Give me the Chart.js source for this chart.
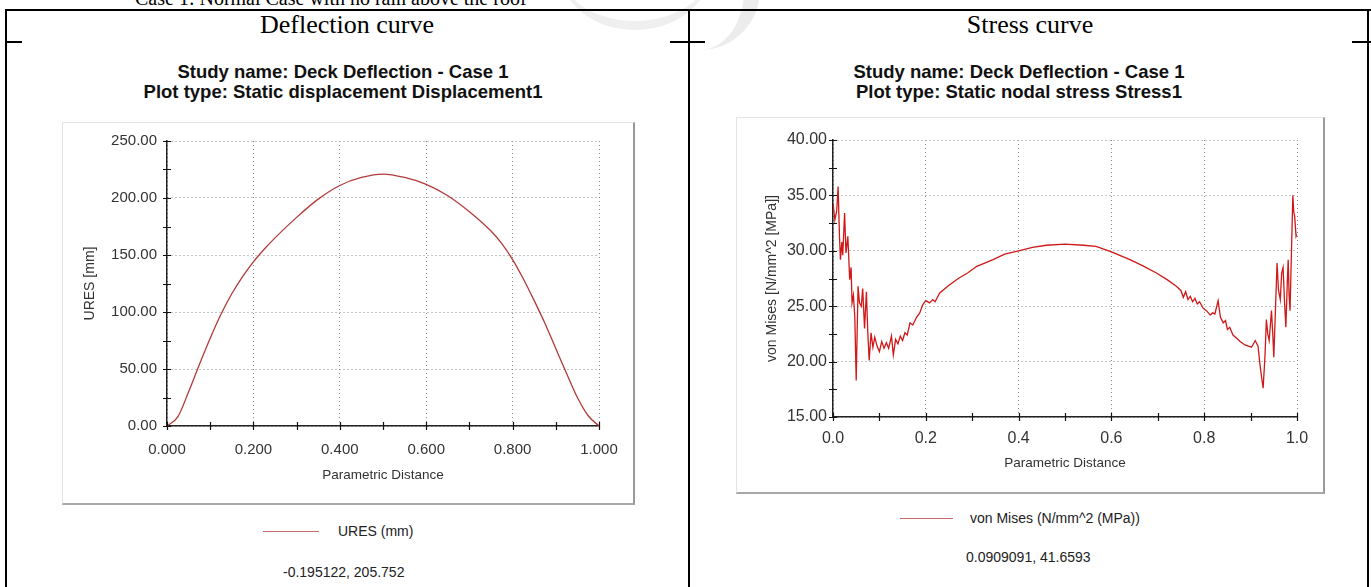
<!DOCTYPE html>
<html>
<head>
<meta charset="utf-8">
<title>Deck Deflection - Case 1</title>
<script src="https://cdn.jsdelivr.net/npm/chart.js@4.4.0/dist/chart.umd.min.js"></script>
<style>
  html, body { margin: 0; padding: 0; background: #fff; }
  body { width: 1371px; height: 587px; position: relative; overflow: hidden; font-family: Arial, "Liberation Sans", sans-serif; }
  .hl { position: absolute; height: 2px; background: #000; }
  .vl { position: absolute; width: 2px; background: #000; }
  .serif { position: absolute; font-family: "Times New Roman", "Liberation Serif", serif; color: #000; white-space: nowrap; line-height: 1; }
  .ttl { position: absolute; font-weight: bold; font-size: 18.5px; line-height: 20px; color: #111; text-align: center; white-space: nowrap; transform: translateX(-50%); }
  .frame { position: absolute; box-sizing: border-box; border-top: 1px solid #e4e4e4; border-left: 1px solid #e4e4e4; border-right: 2px solid #9a9a9a; border-bottom: 2px solid #a8a8a8; }
  .box { position: absolute; }
  .leg { position: absolute; font-size: 14px; color: #222; white-space: nowrap; line-height: 16px; }
  .legline { position: absolute; height: 1px; background: #c86a6a; }
  .wm { position: absolute; border-radius: 50%; box-sizing: border-box; }
</style>
</head>
<body>

<!-- faint watermark strokes behind the table header -->
<div class="wm" style="left:640px; top:-70px; width:120px; height:120px; border-right:16px solid #ececec;"></div>
<div class="wm" style="left:560px; top:-90px; width:150px; height:120px; border-bottom:9px solid #efefef;"></div>

<!-- document caption (cut at the top) and table frame -->
<div class="serif" style="left:135px; top:-12px; font-size:20px;">Case 1: Normal Case with no rain above the roof</div>
<div class="hl" style="left:5px; top:9px; width:1366px;"></div>
<div class="vl" style="left:5px; top:9px; height:578px;"></div>
<div class="vl" style="left:688px; top:9px; height:578px;"></div>
<div class="vl" style="left:1367px; top:9px; height:578px;"></div>
<div class="hl" style="left:5px; top:41px; width:17px;"></div>
<div class="hl" style="left:670px; top:41px; width:35px;"></div>
<div class="hl" style="left:1352px; top:41px; width:19px;"></div>
<div class="serif" style="left:347px; top:12px; font-size:26px; transform:translateX(-50%);">Deflection curve</div>
<div class="serif" style="left:1030px; top:12px; font-size:26px; transform:translateX(-50%);">Stress curve</div>

<!-- left chart -->
<div class="ttl" style="left:343px; top:62px;">Study name: Deck Deflection - Case 1<br>Plot type: Static displacement Displacement1</div>
<div class="frame" style="left:62px; top:122px; width:573px; height:383px;"></div>
<div class="box" style="left:62px; top:122px; width:571px; height:381px;"><canvas id="deflChart"></canvas></div>
<div class="legline" style="left:263px; top:531px; width:56px;"></div>
<div class="leg" style="left:338px; top:523px;">URES (mm)</div>
<div class="leg" style="left:283px; top:564px;">-0.195122, 205.752</div>

<!-- right chart -->
<div class="ttl" style="left:1019px; top:62px;">Study name: Deck Deflection - Case 1<br>Plot type: Static nodal stress Stress1</div>
<div class="frame" style="left:736px; top:117px; width:589px; height:377px;"></div>
<div class="box" style="left:736px; top:117px; width:587px; height:375px;"><canvas id="stressChart"></canvas></div>
<div class="legline" style="left:900px; top:518px; width:53px;"></div>
<div class="leg" style="left:970px; top:510px;">von Mises (N/mm^2 (MPa))</div>
<div class="leg" style="left:966px; top:549px;">0.0909091, 41.6593</div>

<script>
// Deflection curve: parametric distance vs URES (mm)
const deflX = [0, 0.025, 0.05, 0.075, 0.1, 0.125, 0.15, 0.175, 0.2, 0.225, 0.25, 0.3, 0.35, 0.4, 0.45,
  0.5, 0.55, 0.6, 0.65, 0.7, 0.75, 0.775, 0.8, 0.825, 0.85, 0.875, 0.9, 0.925, 0.95, 0.975, 1.0];
const deflY = [0, 8, 30, 54, 77, 98, 116, 131, 144, 155, 165, 183, 199, 211, 218,
  221, 218, 212, 202, 188, 171, 160, 146, 129, 110, 90, 68, 46, 25, 9, 0];

// Stress curve: parametric distance vs von Mises (N/mm^2)
const stressX = [0.000, 0.004, 0.008, 0.011, 0.014, 0.016, 0.019, 0.021, 0.025, 0.028, 0.032, 0.036,
  0.039, 0.041, 0.044, 0.047, 0.050, 0.054, 0.057, 0.061, 0.064, 0.068, 0.072, 0.075, 0.078, 0.082,
  0.086, 0.090, 0.095, 0.100, 0.105, 0.110, 0.115, 0.120, 0.126, 0.130, 0.135, 0.140, 0.145, 0.150,
  0.155, 0.160, 0.166, 0.172, 0.180, 0.187, 0.193, 0.200, 0.208, 0.215, 0.220, 0.230, 0.250, 0.270,
  0.290, 0.310, 0.345, 0.370, 0.400, 0.430, 0.460, 0.500, 0.540, 0.567, 0.600, 0.640, 0.670, 0.697,
  0.720, 0.740, 0.750, 0.755, 0.760, 0.765, 0.770, 0.775, 0.780, 0.785, 0.790, 0.798, 0.805, 0.813,
  0.818, 0.823, 0.830, 0.835, 0.841, 0.846, 0.850, 0.855, 0.862, 0.870, 0.878, 0.888, 0.895, 0.902,
  0.910, 0.916, 0.920, 0.924, 0.927, 0.931, 0.934, 0.937, 0.940, 0.943, 0.945, 0.948, 0.950, 0.953,
  0.957, 0.960, 0.964, 0.967, 0.970, 0.973, 0.976, 0.979, 0.981, 0.983, 0.985, 0.988, 0.991, 0.993,
  0.995, 0.998, 1.000];
const stressY = [34.3, 32.8, 33.6, 35.8, 31.3, 29.2, 30.8, 29.6, 33.4, 29.8, 31.3, 27.4,
  28.5, 25.3, 26.0, 24.0, 18.3, 26.8, 25.3, 25.0, 26.6, 23.0, 26.3, 22.6, 20.1, 22.6,
  21.3, 22.2, 21.4, 20.9, 21.8, 21.2, 21.7, 21.2, 22.3, 20.6, 22.0, 21.6, 22.3, 21.9,
  22.6, 22.4, 23.5, 23.3, 24.0, 24.4, 25.1, 25.5, 25.3, 25.6, 25.4, 26.2, 26.9, 27.5,
  28.0, 28.6, 29.2, 29.7, 30.0, 30.3, 30.5, 30.6, 30.5, 30.4, 29.9, 29.2, 28.6, 28.0,
  27.4, 26.8, 26.4, 25.8, 26.3, 25.6, 25.9, 25.4, 25.7, 25.2, 25.4, 24.8, 24.6, 24.2,
  24.4, 24.3, 25.5, 24.0, 23.5, 23.7, 22.9, 23.1, 22.4, 22.1, 21.8, 21.5, 21.4, 21.3,
  21.9, 21.4, 19.8, 18.5, 17.6, 20.5, 23.8, 22.5, 21.9, 23.5, 24.6, 22.3, 20.4, 24.0,
  28.9, 26.5, 25.6, 28.0, 28.5, 25.5, 23.1, 27.0, 29.2, 26.0, 24.6, 29.8, 35.0, 33.5,
  33.1, 31.3, 31.5];

// short tick marks across both axes, majors and minors
const axisTicks = {
  id: 'axisTicks',
  afterDraw(chart, args, o) {
    const { ctx, chartArea: a, scales: { x, y } } = chart;
    ctx.save();
    ctx.strokeStyle = '#111';
    ctx.lineWidth = 1.2;
    ctx.beginPath();
    for (let v = x.min; v <= x.max + 1e-9; v += o.xStep) {
      const px = Math.round(x.getPixelForValue(v)) + 0.5;
      ctx.moveTo(px, a.bottom - 4);
      ctx.lineTo(px, a.bottom + 4);
    }
    for (let v = y.min; v <= y.max + 1e-9; v += o.yStep) {
      const py = Math.round(y.getPixelForValue(v)) + 0.5;
      ctx.moveTo(a.left - 4, py);
      ctx.lineTo(a.left + 4, py);
    }
    ctx.stroke();
    ctx.restore();
  }
};

function makeChart(id, xs, ys, cfg) {
  const points = xs.map((x, i) => ({ x, y: ys[i] }));
  return new Chart(document.getElementById(id), {
    type: 'line',
    data: {
      datasets: [{
        data: points,
        borderColor: cfg.color,
        borderWidth: 1.3,
        pointRadius: 0,
        tension: cfg.tension,
        cubicInterpolationMode: cfg.tension ? 'monotone' : 'default'
      }]
    },
    plugins: [axisTicks],
    options: {
      responsive: true,
      maintainAspectRatio: false,
      animation: false,
      events: [],
      layout: { padding: { left: 0, top: cfg.padTop, right: cfg.padRight, bottom: 0 } },
      plugins: {
        legend: { display: false },
        tooltip: { enabled: false },
        axisTicks: { xStep: 0.1, yStep: cfg.yMinor }
      },
      scales: {
        x: {
          type: 'linear',
          min: 0,
          max: 1,
          afterFit: (s) => { s.height = cfg.xHeight; },
          // in v4 the dash of the grid lines lives under border
          border: { display: true, color: '#222', width: 1.5, dash: [1, 3] },
          grid: { color: '#8c8c8c', lineWidth: 1, drawTicks: false },
          ticks: {
            stepSize: 0.2,
            padding: cfg.xPad,
            color: '#333',
            font: { family: 'Arial, "Liberation Sans"', size: cfg.tickSize },
            maxRotation: 0,
            callback: (v) => Number(v).toFixed(cfg.xDec)
          },
          title: {
            display: true,
            text: 'Parametric Distance',
            color: '#333',
            font: { family: 'Arial, "Liberation Sans"', size: 13.5 },
            padding: { top: 0, bottom: cfg.xTitlePad }
          }
        },
        y: {
          min: cfg.yMin,
          max: cfg.yMax,
          afterFit: (s) => { s.width = cfg.yWidth; },
          border: { display: true, color: '#222', width: 1.5, dash: [1, 3] },
          grid: { color: '#8c8c8c', lineWidth: 1, drawTicks: false },
          ticks: {
            stepSize: cfg.yStep,
            padding: cfg.yPad,
            color: '#333',
            font: { family: 'Arial, "Liberation Sans"', size: cfg.tickSize },
            callback: (v) => Number(v).toFixed(2)
          },
          title: {
            display: true,
            text: cfg.yTitle,
            color: '#333',
            font: { family: 'Arial, "Liberation Sans"', size: 14 },
            padding: { top: cfg.yTitlePad, bottom: 0 }
          }
        }
      }
    }
  });
}

makeChart('deflChart', deflX, deflY, {
  color: '#b23a3a', tension: 0.4,
  padTop: 18, padRight: 34, xHeight: 77, yWidth: 105,
  xPad: 15, yPad: 10, tickSize: 15, xDec: 3,
  yMin: 0, yMax: 250, yStep: 50, yMinor: 25,
  yTitle: 'URES [mm]', xTitlePad: 20, yTitlePad: 20
});

makeChart('stressChart', stressX, stressY, {
  color: '#d01818', tension: 0,
  padTop: 23, padRight: 26, xHeight: 75, yWidth: 97,
  xPad: 12, yPad: 6, tickSize: 16, xDec: 1,
  yMin: 15, yMax: 40, yStep: 5, yMinor: 2.5,
  yTitle: 'von Mises [N/mm^2 [MPa]]', xTitlePad: 21, yTitlePad: 28
});
</script>
</body>
</html>
